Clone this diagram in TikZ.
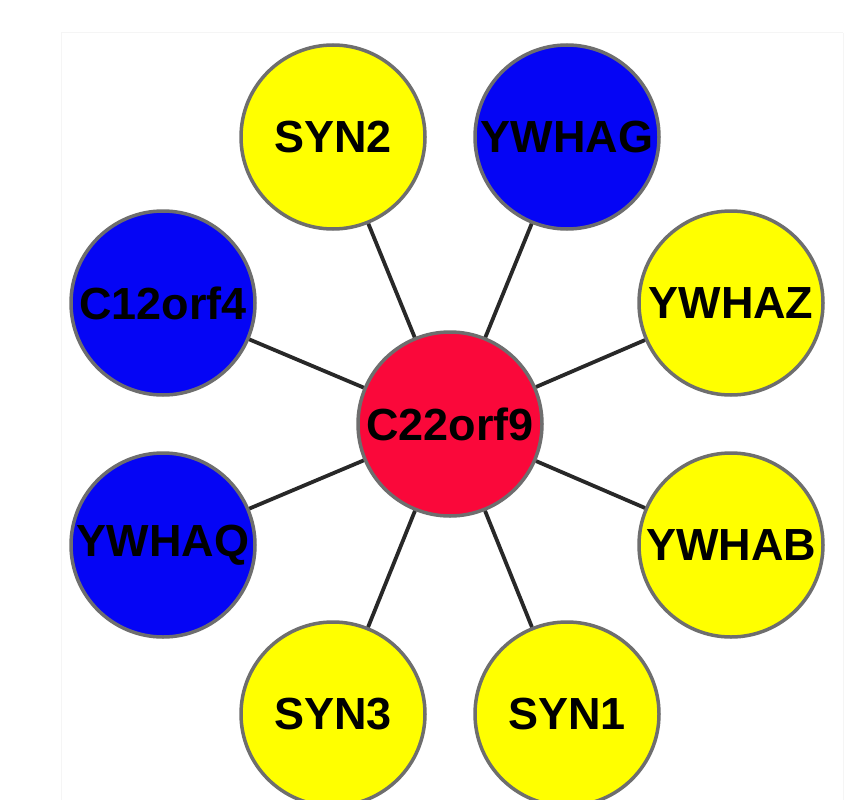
\documentclass[tikz,border=0pt]{standalone}
\usepackage{fontspec}
\setmainfont{Liberation Sans}
\definecolor{nodeyellow}{RGB}{255,255,0}
\definecolor{nodeblue}{RGB}{5,5,245}
\definecolor{nodered}{RGB}{250,8,58}
\definecolor{ringgray}{RGB}{110,110,110}
\definecolor{edgegray}{RGB}{40,40,40}
\tikzset{
  gene/.style={circle, draw=ringgray, line width=3.5pt, minimum size=184pt,
    inner sep=0pt, font=\fontsize{45}{45}\selectfont\bfseries, text=black},
  yellowgene/.style={gene, fill=nodeyellow},
  bluegene/.style={gene, fill=nodeblue},
  redgene/.style={gene, fill=nodered},
  link/.style={draw=edgegray, line width=3.8pt}
}
\begin{document}
\begin{tikzpicture}[x=1pt, y=-1pt]
  \useasboundingbox (0,0) rectangle (859,800);
  \fill[white] (0,0) rectangle (859,800);
  % faint frame around the network panel
  \draw[gray!8, line width=1pt] (61,33) -- (843,33);
  \draw[gray!8, line width=1pt] (61,33) -- (61,800);
  \draw[gray!8, line width=1pt] (843,33) -- (843,800);

  \node[redgene]    (c22)   at (450,424) {C22orf9};
  \node[yellowgene] (syn2)  at (333,137) {SYN2};
  \node[bluegene]   (ywhag) at (567,137) {YWHAG};
  \node[bluegene]   (c12)   at (163,303) {C12orf4};
  \node[yellowgene] (ywhaz) at (731,303) {YWHAZ};
  \node[bluegene]   (ywhaq) at (163,545) {YWHAQ};
  \node[yellowgene] (ywhab) at (731,545) {YWHAB};
  \node[yellowgene] (syn3)  at (333,714) {SYN3};
  \node[yellowgene] (syn1)  at (567,714) {SYN1};

  % interactions of C22orf9 with its partners
  \foreach \partner in {syn2,ywhag,c12,ywhaz,ywhaq,ywhab,syn3,syn1}
    \draw[link] (c22) -- (\partner);
\end{tikzpicture}
\end{document}
